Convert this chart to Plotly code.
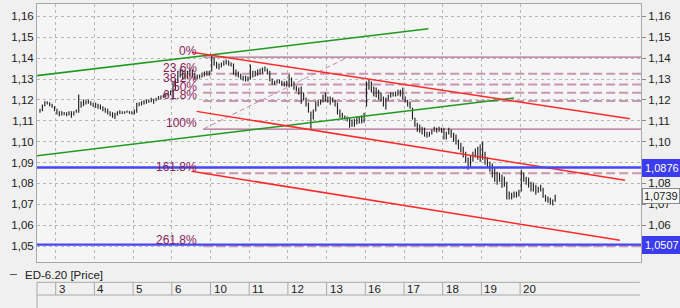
import plotly.graph_objects as go

# ---------------- data ----------------
day_labels = ["3", "4", "5", "6", "10", "11", "12", "13", "16", "17", "18", "19", "20"]
day_boundaries = list(range(13))          # day index where each label cell starts
slots_per_day = 16
first_day = -1
first_slot = 9
day_counts = [7, 16, 16, 16, 16, 16, 16, 16, 16, 16, 16, 16, 16, 15]

highs = [
    1.1157, 1.1178, 1.1194, 1.1194, 1.1189, 1.1182, 1.1170,
    1.1157, 1.1146, 1.1146, 1.1142, 1.1141, 1.1146, 1.1146, 1.1146, 1.1154, 1.1226, 1.1194, 1.1202, 1.1198, 1.1202, 1.1194, 1.1186,
    1.1186, 1.1182, 1.1178, 1.1170, 1.1162, 1.1157, 1.1146, 1.1141, 1.1138, 1.1146, 1.1150, 1.1146, 1.1146, 1.1149, 1.1146, 1.1146,
    1.1154, 1.1186, 1.1189, 1.1194, 1.1198, 1.1202, 1.1202, 1.1210, 1.1205, 1.1210, 1.1218, 1.1221, 1.1226, 1.1230, 1.1238, 1.1245,
    1.1284, 1.1302, 1.1336, 1.1350, 1.1345, 1.1340, 1.1340, 1.1350, 1.1345, 1.1331, 1.1321, 1.1321, 1.1331, 1.1336, 1.1340, 1.1340,
    1.1417, 1.1403, 1.1383, 1.1374, 1.1379, 1.1388, 1.1393, 1.1388, 1.1379, 1.1374, 1.1345, 1.1336, 1.1326, 1.1316, 1.1316, 1.1312,
    1.1369, 1.1340, 1.1340, 1.1345, 1.1350, 1.1355, 1.1360, 1.1350, 1.1340, 1.1302, 1.1292, 1.1297, 1.1297, 1.1292, 1.1288, 1.1292,
    1.1321, 1.1307, 1.1288, 1.1268, 1.1259, 1.1264, 1.1235, 1.1211, 1.1187, 1.1144, 1.1154, 1.1192, 1.1201, 1.1201, 1.1225, 1.1235,
    1.1216, 1.1216, 1.1211, 1.1201, 1.1187, 1.1154, 1.1139, 1.1125, 1.1120, 1.1115, 1.1106, 1.1110, 1.1120, 1.1120, 1.1125, 1.1139,
    1.1288, 1.1297, 1.1288, 1.1264, 1.1259, 1.1249, 1.1235, 1.1216, 1.1211, 1.1225, 1.1235, 1.1235, 1.1240, 1.1249, 1.1249, 1.1259,
    1.1216, 1.1201, 1.1192, 1.1163, 1.1115, 1.1091, 1.1082, 1.1072, 1.1067, 1.1048, 1.1048, 1.1058, 1.1072, 1.1067, 1.1072, 1.1067,
    1.1067, 1.1048, 1.1067, 1.1058, 1.1043, 1.1034, 1.1010, 1.0995, 1.0976, 1.0952, 1.0924, 1.0933, 1.0952, 1.0967, 1.0976, 1.0986,
    1.1000, 1.0952, 1.0924, 1.0904, 1.0895, 1.0876, 1.0856, 1.0852, 1.0842, 1.0832, 1.0808, 1.0761, 1.0756, 1.0761, 1.0761, 1.0770,
    1.0866, 1.0852, 1.0832, 1.0828, 1.0808, 1.0804, 1.0794, 1.0784, 1.0794, 1.0780, 1.0746, 1.0737, 1.0732, 1.0723, 1.0746,
]
lows = [
    1.1138, 1.1146, 1.1170, 1.1178, 1.1170, 1.1162, 1.1146,
    1.1130, 1.1122, 1.1125, 1.1126, 1.1122, 1.1125, 1.1114, 1.1125, 1.1138, 1.1138, 1.1162, 1.1170, 1.1178, 1.1182, 1.1173, 1.1166,
    1.1162, 1.1157, 1.1154, 1.1146, 1.1138, 1.1130, 1.1122, 1.1114, 1.1109, 1.1125, 1.1133, 1.1133, 1.1134, 1.1138, 1.1133, 1.1130,
    1.1130, 1.1138, 1.1170, 1.1173, 1.1178, 1.1182, 1.1186, 1.1189, 1.1182, 1.1194, 1.1202, 1.1202, 1.1210, 1.1214, 1.1218, 1.1222,
    1.1201, 1.1249, 1.1288, 1.1307, 1.1297, 1.1297, 1.1302, 1.1312, 1.1307, 1.1297, 1.1297, 1.1302, 1.1307, 1.1312, 1.1316, 1.1316,
    1.1336, 1.1364, 1.1350, 1.1345, 1.1355, 1.1364, 1.1369, 1.1364, 1.1360, 1.1321, 1.1312, 1.1307, 1.1297, 1.1292, 1.1288, 1.1288,
    1.1297, 1.1307, 1.1312, 1.1316, 1.1321, 1.1326, 1.1336, 1.1321, 1.1288, 1.1273, 1.1273, 1.1278, 1.1278, 1.1268, 1.1264, 1.1264,
    1.1259, 1.1264, 1.1249, 1.1240, 1.1225, 1.1182, 1.1197, 1.1168, 1.1139, 1.1062, 1.1106, 1.1144, 1.1168, 1.1177, 1.1187, 1.1192,
    1.1187, 1.1177, 1.1187, 1.1168, 1.1130, 1.1115, 1.1106, 1.1106, 1.1096, 1.1067, 1.1072, 1.1072, 1.1082, 1.1087, 1.1087, 1.1091,
    1.1168, 1.1249, 1.1235, 1.1216, 1.1211, 1.1201, 1.1192, 1.1168, 1.1154, 1.1197, 1.1211, 1.1216, 1.1216, 1.1220, 1.1216, 1.1201,
    1.1187, 1.1168, 1.1158, 1.1106, 1.1072, 1.1048, 1.1043, 1.1034, 1.1024, 1.1019, 1.1024, 1.1034, 1.1048, 1.1043, 1.1048, 1.1043,
    1.1010, 1.1010, 1.1034, 1.1019, 1.1000, 1.0986, 1.0962, 1.0948, 1.0924, 1.0900, 1.0866, 1.0880, 1.0904, 1.0924, 1.0914, 1.0904,
    1.0914, 1.0890, 1.0876, 1.0856, 1.0828, 1.0808, 1.0794, 1.0808, 1.0780, 1.0784, 1.0723, 1.0723, 1.0723, 1.0732, 1.0732, 1.0737,
    1.0761, 1.0808, 1.0794, 1.0780, 1.0761, 1.0761, 1.0746, 1.0756, 1.0761, 1.0732, 1.0713, 1.0708, 1.0699, 1.0694, 1.0713,
]

# trend / channel lines (day index, price)
green_upper_x = [-0.49, 9.63]
green_upper_y = [1.1316, 1.1540]
green_lower_x = [-0.49, 11.84]
green_lower_y = [1.0933, 1.1209]
red_upper_x = [3.52, 14.84]
red_upper_y = [1.1428, 1.1110]
red_mid_x = [3.64, 14.71]
red_mid_y = [1.1145, 1.0815]
red_low_x = [3.51, 14.58]
red_low_y = [1.0858, 1.0528]

# fibonacci tool
fib_labels = ["0%", "23.6%", "38.2%", "50%", "61.8%", "100%", "161.8%", "261.8%"]
fib_prices = [1.1405, 1.1325, 1.1274, 1.1234, 1.1195, 1.1060, 1.0849, 1.0499]
fib_solid = [True, False, False, False, False, True, False, False]
fib_start_x = 3.81
fib_diag_x = [3.83, 7.56]
fib_diag_y = [1.1062, 1.1405]

# horizontal price levels
blue_levels = [1.0876, 1.0507]
blue_labels = ["1,0876", "1,0507"]
last_price = 1.0739
last_label = "1,0739"

y_ticks = [1.05, 1.06, 1.07, 1.08, 1.09, 1.10, 1.11, 1.12, 1.13, 1.14, 1.15, 1.16]
y_ticktext = ["1,05", "1,06", "1,07", "1,08", "1,09", "1,10", "1,11", "1,12", "1,13", "1,14", "1,15", "1,16"]

series_name = "ED-6.20 [Price]"

# ---------------- layout constants ----------------
X_RANGE = [-0.4832, 15.124]
Y_RANGE = [1.0424, 1.1659]
FONT = "Liberation Sans, Arial, sans-serif"
TXT = "#1a1a1a"

# bar positions
bar_x = []
for i, c in enumerate(day_counts):
    d = first_day + i
    s0 = first_slot if i == 0 else 0
    for k in range(s0, s0 + c):
        bar_x.append(d + (k + 0.5) / slots_per_day)

seg_x, seg_y = [], []
for xv, h, l in zip(bar_x, highs, lows):
    seg_x += [xv, xv, None]
    seg_y += [l, h, None]

fig = go.Figure()

# fib lines
for lab, p, solid in zip(fib_labels, fib_prices, fib_solid):
    fig.add_trace(go.Scatter(
        x=[fib_start_x, X_RANGE[1] + 1], y=[p, p], mode="lines",
        line=dict(color="#b06a8e" if solid else "#c996b1", width=1.2 if solid else 2,
                  dash="solid" if solid else "9px,4px"),
        hoverinfo="skip", showlegend=False))
fig.add_trace(go.Scatter(x=fib_diag_x, y=fib_diag_y, mode="lines",
                         line=dict(color="#c58aa8", width=1, dash="5px,3px"),
                         hoverinfo="skip", showlegend=False))

# price bars
fig.add_trace(go.Scatter(x=seg_x, y=seg_y, mode="lines",
                         line=dict(color="#222222", width=1.15),
                         name=series_name, showlegend=False, hoverinfo="skip"))

# channels
for xx, yy, col in [(green_upper_x, green_upper_y, "#1f9a1f"),
                    (green_lower_x, green_lower_y, "#1f9a1f"),
                    (red_upper_x, red_upper_y, "#ff2a2a"),
                    (red_mid_x, red_mid_y, "#ff2a2a"),
                    (red_low_x, red_low_y, "#ff2a2a")]:
    fig.add_trace(go.Scatter(x=xx, y=yy, mode="lines", line=dict(color=col, width=1.5),
                             hoverinfo="skip", showlegend=False))

# blue levels (on right axis)
for p in blue_levels:
    fig.add_trace(go.Scatter(x=[X_RANGE[0] - 1, X_RANGE[1] + 1], y=[p, p], mode="lines",
                             line=dict(color="#4646f2", width=2.4), yaxis="y2",
                             hoverinfo="skip", showlegend=False))

annotations = []
for lab, p in zip(fib_labels, fib_prices):
    annotations.append(dict(x=3.71, y=p, xref="x", yref="y", text=lab, showarrow=False,
                            xanchor="right", yanchor="middle", yshift=6,
                            font=dict(family=FONT, size=12, color="#8a2258")))
for p, lab in zip(blue_levels, blue_labels):
    annotations.append(dict(x=1, y=p, xref="paper", yref="y", text=lab, showarrow=False,
                            xanchor="left", yanchor="middle", xshift=1,
                            bgcolor="#3b3bf0", bordercolor="#3b3bf0", borderpad=2,
                            font=dict(family=FONT, size=11, color="white")))
annotations.append(dict(x=1, y=last_price, xref="paper", yref="y", text=last_label,
                        showarrow=False, xanchor="left", yanchor="middle", xshift=1,
                        bgcolor="#f8f8f8", bordercolor="#8a8a8a", borderwidth=1, borderpad=1,
                        font=dict(family=FONT, size=11, color=TXT)))

# date strip
PLOT_H = 258.0
def py(Y):
    return (262.0 - Y) / PLOT_H
def pxp(d):
    return (d - X_RANGE[0]) / (X_RANGE[1] - X_RANGE[0])

shapes = []
strip_top, strip_bot, panel_bot = py(282.3), py(295.0), py(308.5)
line_col = "#a8a8a8"
shapes.append(dict(type="line", xref="paper", yref="paper", x0=0, x1=0.998, y0=strip_top, y1=strip_top,
                   line=dict(color=line_col, width=1)))
shapes.append(dict(type="line", xref="paper", yref="paper", x0=0, x1=0.998, y0=strip_bot, y1=strip_bot,
                   line=dict(color=line_col, width=1)))
shapes.append(dict(type="line", xref="paper", yref="paper", x0=0, x1=0, y0=strip_top, y1=panel_bot,
                   line=dict(color=line_col, width=1)))
for d, lab in zip(day_boundaries, day_labels):
    xp = pxp(d)
    shapes.append(dict(type="line", xref="paper", yref="paper", x0=xp, x1=xp, y0=strip_top, y1=strip_bot,
                       line=dict(color=line_col, width=1)))
    annotations.append(dict(x=xp, y=py(288.8), xref="paper", yref="paper", text=lab, showarrow=False,
                            xanchor="left", yanchor="middle", xshift=1,
                            font=dict(family=FONT, size=11.5, color=TXT)))

# legend row
shapes.append(dict(type="line", xref="paper", yref="paper", x0=(10 - 37) / 604, x1=(17 - 37) / 604,
                   y0=py(274.5), y1=py(274.5), line=dict(color="#555555", width=1)))
annotations.append(dict(x=(23 - 37) / 604, y=py(274.5), xref="paper", yref="paper", text=series_name,
                        showarrow=False, xanchor="left", yanchor="middle",
                        font=dict(family=FONT, size=11.5, color=TXT)))

fig.update_layout(
    width=680, height=308,
    margin=dict(l=37, r=39, t=4, b=46),
    paper_bgcolor="#f0f0f0", plot_bgcolor="#f5f5f5",
    showlegend=False,
    font=dict(family=FONT, size=11.5, color=TXT),
    xaxis=dict(range=X_RANGE, tickmode="array", tickvals=day_boundaries, showticklabels=False,
               ticks="", showgrid=True, gridcolor="#b8b8b8", griddash="dot", gridwidth=1,
               zeroline=False, showline=True, mirror=True, linecolor="#a8a8a8", linewidth=1,
               fixedrange=True),
    yaxis=dict(range=Y_RANGE, tickmode="array", tickvals=y_ticks, ticktext=y_ticktext,
               showgrid=True, gridcolor="#b8b8b8", griddash="dot", gridwidth=1, zeroline=False,
               showline=True, mirror=True, linecolor="#a8a8a8", linewidth=1, ticks="",
               tickfont=dict(family=FONT, size=11.5, color=TXT), fixedrange=True),
    yaxis2=dict(range=Y_RANGE, overlaying="y", side="right", tickmode="array", tickvals=y_ticks,
                ticktext=y_ticktext, showgrid=False, zeroline=False, ticks="outside", ticklen=4,
                tickcolor="#8a8a8a", tickfont=dict(family=FONT, size=11.5, color=TXT),
                fixedrange=True),
    shapes=shapes,
    annotations=annotations,
)

fig.write_html("out.html")
